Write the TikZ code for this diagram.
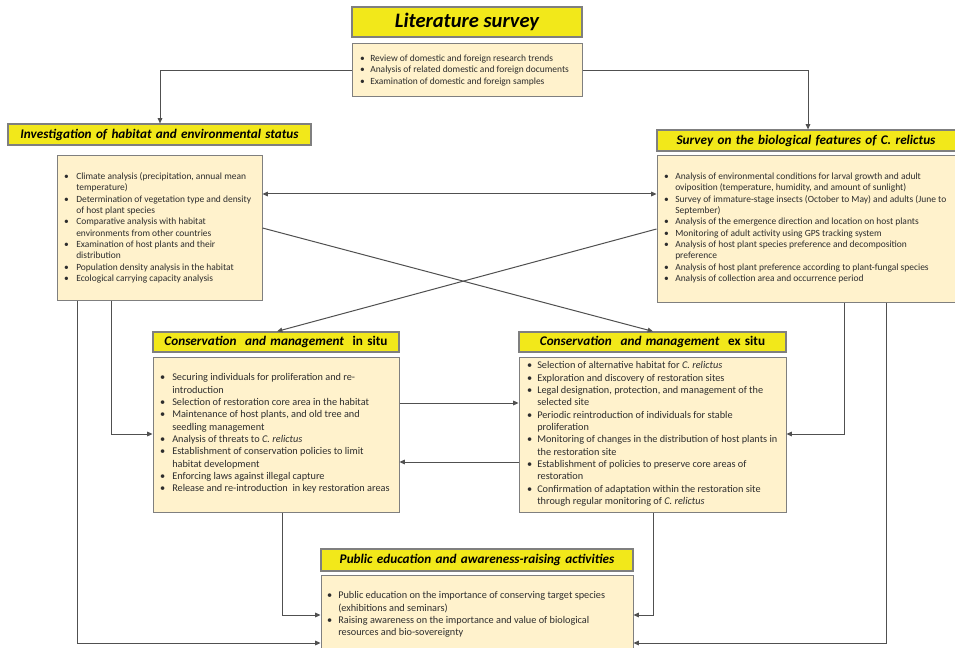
\documentclass[tikz,border=0pt]{standalone}
\usepackage{fontspec}
\setmainfont{Carlito}
\usetikzlibrary{arrows.meta,fit,calc}
\definecolor{titleyellow}{RGB}{242,232,26}
\definecolor{bordergray}{RGB}{127,127,127}
\definecolor{cream}{RGB}{255,242,204}
\definecolor{linegray}{RGB}{80,80,80}
\definecolor{txtgray}{RGB}{45,45,45}
\newlength\bulw
\newcommand\bitem{\makebox[\bulw][l]{\hspace{0.6pt}\textbullet}}
\newcommand\bcont{\hspace*{\bulw}}
\newcommand\widesp{\spaceskip=0.33em plus 0.1em\relax}
\tikzset{
  ytitle/.style={draw=bordergray, fill=titleyellow, line width=0.9pt, inner sep=0pt},
  ttxt/.style={anchor=center, inner sep=0pt, text=black,
    font=\fontsize{9.9pt}{12pt}\selectfont\bfseries\itshape\widesp},
  cbox/.style={draw=bordergray, fill=cream, line width=0.75pt, inner sep=0pt},
  smalltxt/.style={anchor=north west, inner sep=0pt, align=left, text=txtgray,
    font=\fontsize{7.1pt}{8.5pt}\selectfont\setlength\bulw{#1}},
  bigtxt/.style={anchor=north west, inner sep=0pt, align=left, text=txtgray,
    font=\fontsize{7.7pt}{9.26pt}\selectfont\setlength\bulw{#1}},
  tip/.tip={Triangle[length=4pt,width=3.5pt]},
  arr/.style={draw=linegray, line width=0.75pt, -tip},
}
\begin{document}
\begin{tikzpicture}[x=0.75pt,y=-0.75pt]
\fill[white] (0,0) rectangle (955,648);
\useasboundingbox (0,0) rectangle (955,648);

% Literature survey
\node[ytitle, fit={(352,7)(582,37)}] (litt) {};
\node[ttxt, font=\fontsize{15.4pt}{18pt}\selectfont\bfseries\itshape] (littt) at (litt.center) {Literature survey};
\node[cbox, fit={(352,44)(582,97)}] (litc) {};
\node[smalltxt=8.25pt] (littx) at (359,53.3) {\strut\bitem Review of domestic and foreign research trends\\
\bitem Analysis of related domestic and foreign documents\\
\bitem Examination of domestic and foreign samples};

% Investigation
\node[ytitle, fit={(8,124)(311,145)}] (invt) {};
\node[ttxt] (invtt) at (invt.center) {Investigation of habitat and environmental status};
\node[cbox, fit={(57,156)(262,300)}] (inv) {};
\node[smalltxt=9.75pt] (invtx) at (63,171.3) {\strut\bitem Climate analysis (precipitation, annual mean\\
\bcont temperature)\\
\bitem Determination of vegetation type and density\\
\bcont of host plant species\\
\bitem Comparative analysis with habitat\\
\bcont environments from other countries\\
\bitem Examination of host plants and their\\
\bcont distribution\\
\bitem Population density analysis in the habitat\\
\bitem Ecological carrying capacity analysis};

% Survey
\node[ytitle, fit={(657,130)(959,151)}] (survt) {};
\node[ttxt] (survtt) at ($(survt.center)+(-2,0)$) {Survey on the biological features of C. relictus};
\node[cbox, fit={(657,156)(959,302)}] (surv) {};
\node[smalltxt=9pt] (survtx) at (663,171.3) {\strut\bitem Analysis of environmental conditions for larval growth and adult\\
\bcont oviposition (temperature, humidity, and amount of sunlight)\\
\bitem Survey of immature-stage insects (October to May) and adults (June to\\
\bcont September)\\
\bitem Analysis of the emergence direction and location on host plants\\
\bitem Monitoring of adult activity using GPS tracking system\\
\bitem Analysis of host plant species preference and decomposition\\
\bcont preference\\
\bitem Analysis of host plant preference according to plant-fungal species\\
\bitem Analysis of collection area and occurrence period};

% In situ
\node[ytitle, fit={(153,332)(399,352)}] (inst) {};
\node[ttxt] (instt) at (inst.center) {Conservation\ \ and management\ \ \upshape in situ};
\node[cbox, fit={(153,357)(399,512)}] (insc) {};
\node[bigtxt=9.75pt] (instx) at (159,371.9) {\strut\bitem Securing individuals for proliferation and re-\\
\bcont introduction\\
\bitem Selection of restoration core area in the habitat\\
\bitem Maintenance of host plants, and old tree and\\
\bcont seedling management\\
\bitem Analysis of threats to \textit{C. relictus}\\
\bitem Establishment of conservation policies to limit\\
\bcont habitat development\\
\bitem Enforcing laws against illegal capture\\
\bitem Release and re-introduction\ \ in key restoration areas};

% Ex situ
\node[ytitle, fit={(519,332)(786,352)}] (exst) {};
\node[ttxt] (exstt) at (exst.center) {Conservation\ \ and management\ \ \upshape ex situ};
\node[cbox, fit={(519,357)(786,512)}] (exsc) {};
\node[bigtxt=8.25pt] (exstx) at (526,359.9) {\strut\bitem Selection of alternative habitat for \textit{C. relictus}\\
\bitem Exploration and discovery of restoration sites\\
\bitem Legal designation, protection, and management of the\\
\bcont selected site\\
\bitem Periodic reintroduction of individuals for stable\\
\bcont proliferation\\
\bitem Monitoring of changes in the distribution of host plants in\\
\bcont the restoration site\\
\bitem Establishment of policies to preserve core areas of\\
\bcont restoration\\
\bitem Confirmation of adaptation within the restoration site\\
\bcont through regular monitoring of \textit{C. relictus}};

% Public
\node[ytitle, fit={(321,549)(633,571)}] (pubt) {};
\node[ttxt] (pubtt) at (pubt.center) {Public education and awareness-raising activities};
\node[cbox, fit={(321,575)(633,665)}] (pubc) {};
\node[bigtxt=9pt] (pubtx) at (326,589.9) {\strut\bitem Public education on the importance of conserving target species\\
\bcont (exhibitions and seminars)\\
\bitem Raising awareness on the importance and value of biological\\
\bcont resources and bio-sovereignty};

% connectors
\draw[arr] (litc.west |- 0,71) -| (invt.north -| 160,0);
\draw[arr] (litc.east |- 0,71) -| (survt.north -| 808,0);
\draw[arr, tip-tip] (inv.east |- 0,194) -- (surv.west |- 0,194);
\draw[arr] (inv.east |- 0,228) -- (exst.north -| 653,0);
\draw[arr] (surv.west |- 0,229) -- (inst.north -| 277,0);
\draw[arr] (insc.east |- 0,403) -- (exsc.west |- 0,403);
\draw[arr] (exsc.west |- 0,462) -- (insc.east |- 0,462);
\draw[arr] (inv.south -| 111,0) |- (insc.west |- 0,434);
\draw[arr] (surv.south -| 844,0) |- (exsc.east |- 0,434);
\draw[arr] (inv.south -| 77,0) |- (pubc.west |- 0,643);
\draw[arr] (surv.south -| 886,0) |- (pubc.east |- 0,643);
\draw[arr] (insc.south -| 282,0) |- (pubc.west |- 0,615);
\draw[arr] (exsc.south -| 653,0) |- (pubc.east |- 0,615);
\end{tikzpicture}
\end{document}
